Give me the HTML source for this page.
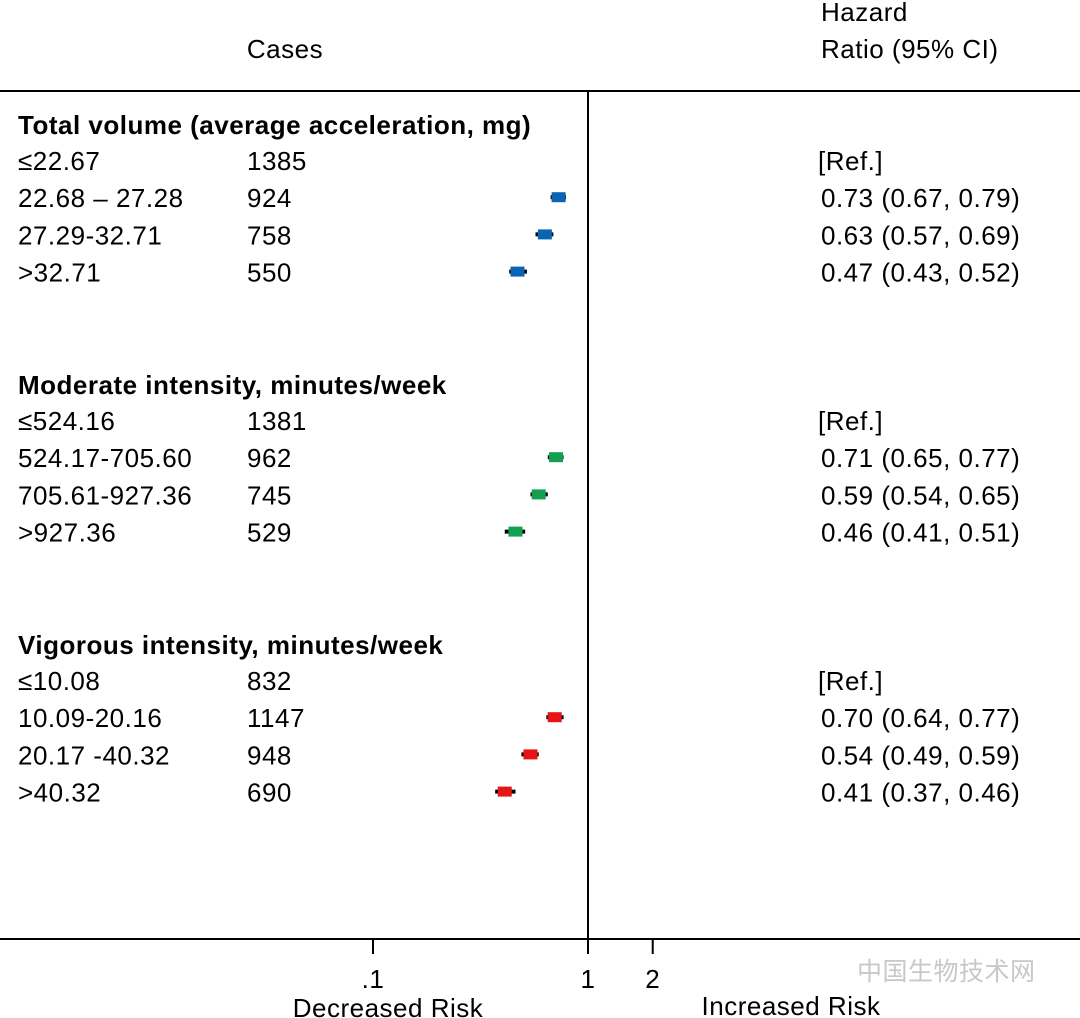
<!DOCTYPE html>
<html><head><meta charset="utf-8"><style>
body{margin:0;background:#fff;}
svg{display:block;font-family:"Liberation Sans","Noto Sans CJK SC",sans-serif;}
svg text{letter-spacing:0.5px;}
</style></head><body>
<svg id="c" width="1080" height="1018" viewBox="0 0 1080 1018">
<line x1="0" y1="91" x2="1080" y2="91" stroke="#000" stroke-width="2"/>
<line x1="0" y1="939" x2="1080" y2="939" stroke="#000" stroke-width="2"/>
<line x1="588" y1="92" x2="588" y2="939" stroke="#000" stroke-width="2"/>
<text x="285" y="58" font-size="26" text-anchor="middle">Cases</text>
<text x="821" y="21" font-size="26">Hazard</text>
<text x="821" y="58" font-size="26">Ratio (95% CI)</text>
<text x="388" y="1017" font-size="26" text-anchor="middle">Decreased Risk</text>
<text x="791" y="1015" font-size="26" text-anchor="middle">Increased Risk</text>
<text x="857" y="980" font-size="25" fill="#c8c8c8">中国生物技术网</text>
<g id="ticks"></g>
<g id="rows"></g>
</svg>
<script>
const tickVals=[0.1,1,2];
const tickLabels=[".1","1","2"];
const groupTitles=["Total volume (average acceleration, mg)","Moderate intensity, minutes/week","Vigorous intensity, minutes/week"];
const groupColors=["#0a64b4","#12a050","#e61414"];
const categories=[["≤22.67","22.68 – 27.28","27.29-32.71",">32.71"],["≤524.16","524.17-705.60","705.61-927.36",">927.36"],["≤10.08","10.09-20.16","20.17 -40.32",">40.32"]];
const cases=[[1385,924,758,550],[1381,962,745,529],[832,1147,948,690]];
const hr=[[null,0.73,0.63,0.47],[null,0.71,0.59,0.46],[null,0.70,0.54,0.41]];
const lo=[[null,0.67,0.57,0.43],[null,0.65,0.54,0.41],[null,0.64,0.49,0.37]];
const hi=[[null,0.79,0.69,0.52],[null,0.77,0.65,0.51],[null,0.77,0.59,0.46]];
const NS="http://www.w3.org/2000/svg";
const x=v=>588+215*Math.log10(v);
function mk(tag,attrs,parent,text){const e=document.createElementNS(NS,tag);for(const k in attrs)e.setAttribute(k,attrs[k]);if(text!=null)e.textContent=text;parent.appendChild(e);return e;}
const tg=document.getElementById('ticks');
tickVals.forEach((v,i)=>{
 const l=mk('line',{x1:x(v),x2:x(v),y1:939,y2:954,stroke:'#000','stroke-width':2},tg);
 
 
 const t=mk('text',{x:x(v),y:988,'font-size':26,'text-anchor':'middle'},tg,tickLabels[i]);
 
 
});
const rg=document.getElementById('rows');
const fmt=v=>v.toFixed(2);
groupTitles.forEach((g,gi)=>{
 const y0=124+gi*260;
 const h=mk('text',{x:18,y:y0+10,'font-size':26,'font-weight':'bold'},rg,g);
 
 
 categories[gi].forEach((c,ri)=>{
  const y=y0+36+ri*37.2;
  const a=mk('text',{x:18,y:y+10,'font-size':26},rg,c);
  
  
  const b=mk('text',{x:247,y:y+10,'font-size':26},rg,String(cases[gi][ri]));
  
  
  const txt=hr[gi][ri]==null?"[Ref.]":fmt(hr[gi][ri])+" ("+fmt(lo[gi][ri])+", "+fmt(hi[gi][ri])+")";
  const d=mk('text',{x:hr[gi][ri]==null?818:821,y:y+10,'font-size':26},rg,txt);
  
  
  if(hr[gi][ri]!=null){
   const ci=mk('line',{x1:x(lo[gi][ri]),x2:x(hi[gi][ri]),y1:y,y2:y,stroke:'#000','stroke-width':4},rg);
   
   
   const px=x(hr[gi][ri]);
   const s=mk('rect',{x:px-7,y:y-5,width:14,height:10,fill:groupColors[gi]},rg);
   
   
  }
 });
});
</script>
</body></html>
